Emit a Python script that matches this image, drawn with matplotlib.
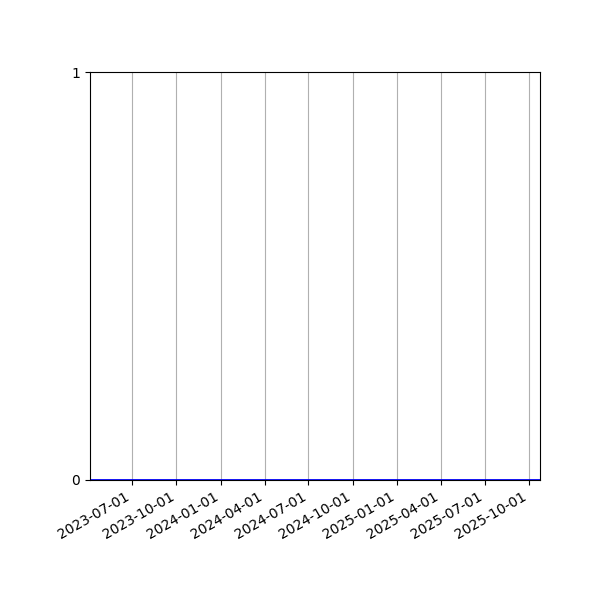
import numpy as np
import pandas as pd
import matplotlib
matplotlib.use("Agg")
import matplotlib.pyplot as plt
import matplotlib.dates as mdates

dates = pd.to_datetime(["2023-04-05", "2024-01-01", "2025-01-01", "2025-10-24"])
values = [0, 0, 0, 0]
tick_dates = pd.to_datetime(["2023-07-01", "2023-10-01", "2024-01-01", "2024-04-01",
                             "2024-07-01", "2024-10-01", "2025-01-01", "2025-04-01",
                             "2025-07-01", "2025-10-01"])

fig, ax = plt.subplots(figsize=(6, 6), dpi=100)
ax.plot(dates, values, color="blue", linewidth=2)
ax.set_xlim(dates[0], dates[-1])
ax.set_ylim(0, 1)
ax.set_yticks([0, 1])
ax.set_xticks(tick_dates)
ax.xaxis.set_major_formatter(mdates.DateFormatter("%Y-%m-%d"))
ax.grid(axis="x", color="#b0b0b0")
fig.autofmt_xdate()
fig.subplots_adjust(left=0.15, right=0.9, top=0.88, bottom=0.2)
fig.savefig("out.png")
